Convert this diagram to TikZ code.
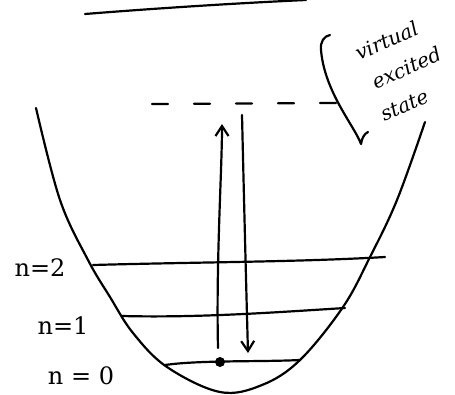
\documentclass[tikz,border=0pt]{standalone}
\usepackage{fontspec}
\setmainfont{DejaVu Serif}
\usetikzlibrary{arrows.meta}
\begin{document}
\begin{tikzpicture}[x=1pt,y=-1pt,
  ink/.style={line width=2.2pt,line cap=round,line join=round},
  lvl/.style={ink},
  lab/.style={font=\fontsize{24}{27}\selectfont,inner sep=0pt},
  hand/.style={font=\itshape\fontsize{20}{33}\selectfont,inner sep=0pt,rotate=24,align=center},
  arr/.style={ink,-{Straight Barb[length=10pt,width=13pt,line width=2.2pt]}}]
\useasboundingbox (0,0) rectangle (455,394);
% top line
\draw[ink] (85,14) .. controls (160,8) and (240,3) .. (306,0);
% parabola well
\draw[ink] plot[smooth,tension=0.6] coordinates {(36,108) (60,200) (88,260) (110,297) (133,333) (167,367) (220,392) (262,385) (300,360) (343,307) (370,257) (397,200) (425,122)};
% dashed virtual level
\coordinate (v1) at (152,104); \coordinate (v2) at (337,103);
\draw[ink,dash pattern=on 16pt off 26pt] (v1) -- (v2);
% bracket
\coordinate (k1) at (330,35); \coordinate (k2) at (368,132);
\draw[ink] (k1) .. controls (324,36) and (320,42) .. (321,50)
  .. controls (323,75) and (335,98) .. (345,115)
  .. controls (352,127) and (358,136) .. (361,144)
  .. controls (362,138) and (364,134) .. (k2);
\node[hand] (t) at (399,71) {\hspace*{2pt}virtual\\\hspace*{16pt}excited\\state\hspace*{18pt}};
% energy levels
\coordinate (a2) at (93,265); \coordinate (b2) at (385,257);
\coordinate (a1) at (122,316); \coordinate (b1) at (345,308);
\coordinate (a0) at (165,365); \coordinate (b0) at (300,360);
\draw[lvl] (a2) .. controls (200,262) and (300,262) .. (b2);
\draw[lvl] (a1) .. controls (200,318) and (280,312) .. (b1);
\draw[lvl] (a0) .. controls (200,360) and (260,362) .. (b0);
% labels
\node[lab] (n2) at (40,268) {n=2};
\node[lab] (n1) at (63,326) {n=1};
\node[lab] (n0) at (81,376) {n = 0};
% particle
\node[circle,fill,inner sep=0pt,minimum size=10pt] (p) at (220,362) {};
% arrows
\coordinate (upS) at (218,348); \coordinate (upE) at (222,124);
\coordinate (dnS) at (242,115); \coordinate (dnE) at (248,353);
\draw[arr] (upS) .. controls (216,260) and (222,170) .. (upE);
\draw[arr] (dnS) .. controls (244,200) and (246,280) .. (dnE);
\end{tikzpicture}
\end{document}
